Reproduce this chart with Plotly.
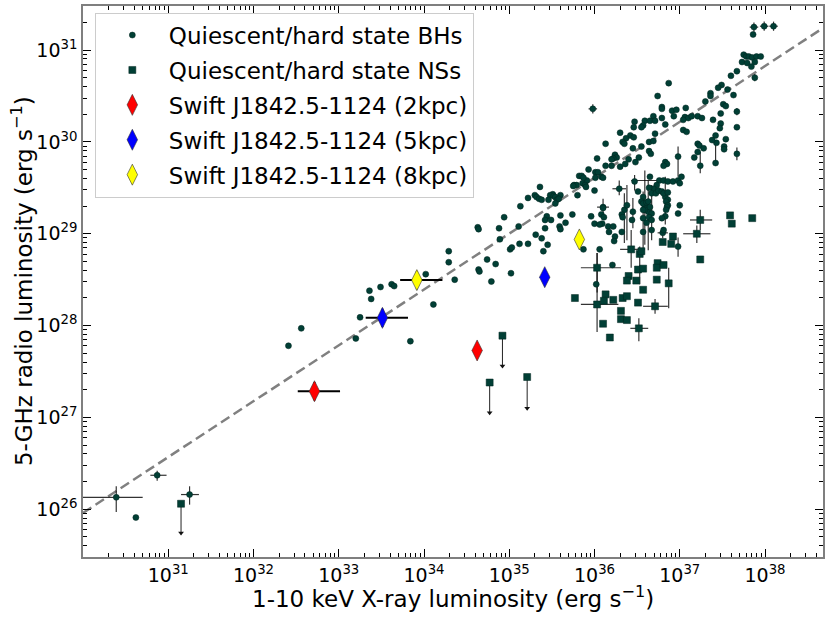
import numpy as np
import plotly.graph_objects as go

# All luminosities are log10 values (erg/s)

# Quiescent/hard state black holes (no error bars drawn)
bh_lx = [37.86, 37.75, 37.78, 37.81, 37.85, 37.90, 37.95, 37.73, 37.79, 37.88, 37.84,
         37.67, 37.60, 36.87, 37.49, 37.45, 37.56, 37.36, 37.36, 37.63, 36.74, 37.30,
         37.51, 37.54, 36.79, 36.79, 37.07, 36.91, 36.96, 37.48, 36.93, 36.69, 37.06,
         37.10, 37.14, 37.21, 37.26, 37.04, 37.39, 36.79, 36.47, 36.59, 36.65, 36.71,
         37.48, 37.47, 36.57, 36.55, 36.46, 37.04, 37.08, 36.83, 37.67, 36.71, 36.30,
         36.42, 36.46, 36.37, 36.33, 36.35, 36.64, 36.69, 36.13, 37.42, 37.43, 37.38,
         37.54, 37.21, 37.23, 37.28, 36.55, 36.45, 37.52, 37.52, 36.64, 36.66, 36.24,
         36.26, 36.22, 36.20, 36.52, 36.40, 37.17, 36.48, 36.36, 36.30, 36.13, 36.83,
         36.85, 36.81, 37.21, 36.20, 35.51, 35.60, 35.76, 35.79, 35.80, 35.86, 35.82,
         35.91, 36.00, 35.93, 36.03, 36.01, 36.04, 36.08, 35.85, 35.87, 36.10, 36.01,
         35.75, 35.89, 35.90, 35.36, 35.30, 35.32, 35.35, 35.38, 35.48, 35.52, 35.54,
         35.56, 35.58, 35.46, 35.54, 35.22, 35.13, 34.94, 35.44, 35.42, 35.49, 35.60,
         35.66, 35.74, 35.59, 35.60, 34.63, 34.64, 34.88, 35.11, 35.42, 35.31, 35.38,
         34.89, 35.12, 35.22, 35.01, 35.03, 35.45, 35.40, 35.96, 36.09, 36.16, 36.22,
         34.29, 34.29, 34.74, 34.84, 34.64, 34.65, 35.02, 34.79, 34.36, 34.02, 33.36,
         33.49, 33.62, 33.65, 33.38, 34.11, 33.25, 33.20, 33.84, 32.56, 32.41, 30.62,
         36.51, 36.65, 36.73, 36.81, 36.86, 36.92, 36.98, 37.00, 37.02, 36.69, 36.64,
         36.67, 36.72, 36.75, 36.79, 36.81, 36.86, 36.86, 36.84, 36.86, 36.85, 36.84,
         36.83, 36.79, 36.81, 36.57, 36.55, 36.57, 36.61, 36.63, 36.65, 36.59, 36.57,
         36.64, 36.67, 36.61, 36.67, 36.57, 37.00, 36.98, 36.44, 36.32, 36.33, 36.32,
         36.10, 36.08, 36.11, 36.00, 36.06, 36.17, 36.24, 36.23, 36.06, 35.87, 36.21,
         36.02]
bh_lr = [31.17, 30.95, 30.93, 30.93, 30.92, 30.93, 30.93, 30.87, 30.86, 30.87, 30.82,
         30.77, 30.72, 30.64, 30.62, 30.59, 30.57, 30.53, 30.50, 30.51, 30.50, 30.44,
         30.41, 30.39, 30.38, 30.36, 30.37, 30.34, 30.35, 30.31, 30.28, 30.28, 30.27,
         30.26, 30.28, 30.28, 30.26, 30.24, 30.24, 30.26, 30.22, 30.23, 30.23, 30.23,
         30.20, 30.15, 30.18, 30.16, 30.16, 30.13, 30.11, 30.19, 30.16, 30.09, 30.10,
         30.07, 30.05, 30.04, 30.00, 29.98, 30.00, 30.01, 29.98, 30.07, 29.99, 30.02,
         30.03, 29.98, 29.96, 29.93, 29.95, 29.93, 29.95, 29.92, 29.90, 29.87, 29.86,
         29.83, 29.82, 29.81, 29.83, 29.81, 29.83, 29.78, 29.76, 29.73, 29.74, 29.78,
         29.76, 29.74, 29.89, 29.74, 29.43, 29.42, 29.53, 29.53, 29.42, 29.55, 29.63,
         29.58, 29.47, 29.70, 29.82, 29.67, 29.67, 29.62, 29.63, 29.61, 29.61, 29.61,
         29.52, 29.53, 29.51, 29.51, 29.42, 29.40, 29.38, 29.37, 29.42, 29.41, 29.40,
         29.37, 29.38, 29.37, 29.33, 29.39, 29.30, 29.18, 29.19, 29.15, 29.15, 29.20,
         29.12, 29.21, 29.08, 29.05, 29.07, 29.05, 29.06, 29.08, 29.06, 28.99, 28.95,
         28.94, 28.89, 28.89, 28.83, 28.85, 28.88, 28.81, 29.19, 29.11, 29.08, 29.08,
         28.81, 28.69, 28.72, 28.67, 28.61, 28.59, 28.57, 28.48, 28.50, 28.56, 28.38,
         28.42, 28.45, 28.43, 28.29, 28.23, 28.09, 27.86, 27.83, 27.97, 27.78, 25.91,
         29.46, 29.62, 29.53, 29.58, 29.57, 29.57, 29.58, 29.55, 29.62, 29.49, 29.50,
         29.44, 29.44, 29.47, 29.46, 29.44, 29.45, 29.37, 29.35, 29.31, 29.29, 29.26,
         29.19, 29.17, 29.04, 29.40, 29.35, 29.33, 29.34, 29.35, 29.29, 29.26, 29.26,
         29.18, 29.15, 29.12, 29.04, 29.02, 29.31, 29.22, 29.15, 29.21, 29.18, 29.02,
         29.28, 29.21, 29.18, 29.11, 29.10, 29.02, 28.97, 28.92, 28.83, 28.83, 28.66,
         28.45]

# Black holes with error bars: value, lower, upper
bhe_lx = [37.87, 37.99, 38.10, 37.88, 37.67, 37.67, 36.98, 37.24, 37.42, 35.98, 36.29,
          36.47, 36.76, 36.10, 36.80, 36.98, 36.35, 36.38, 36.45, 36.59, 36.63, 36.67,
          36.57, 36.83, 30.39, 30.87, 31.25]
bhe_lx_lo = [37.82, 37.94, 38.05, 37.88, 37.67, 37.67, 36.98, 37.24, 37.42, 35.93, 36.21,
             36.47, 36.43, 36.03, 36.74, 36.98, 36.35, 36.38, 36.45, 36.59, 36.63, 36.67,
             36.57, 36.83, 30.00, 30.79, 31.15]
bhe_lx_hi = [37.92, 38.04, 38.15, 37.88, 37.67, 37.67, 36.98, 37.24, 37.42, 36.03, 36.37,
             36.47, 36.96, 36.17, 36.86, 36.98, 36.35, 36.38, 36.45, 36.59, 36.63, 36.67,
             36.57, 36.83, 30.70, 30.98, 31.36]
bhe_lr = [31.25, 31.26, 31.26, 30.70, 30.33, 29.87, 29.84, 29.74, 29.77, 30.36, 29.49,
          29.57, 29.58, 29.29, 29.01, 28.86, 29.26, 29.31, 29.24, 29.31, 29.24, 29.22,
          29.17, 29.40, 26.13, 26.37, 26.16]
bhe_lr_lo = [31.20, 31.21, 31.21, 30.66, 30.29, 29.80, 29.62, 29.66, 29.74, 30.31, 29.42,
             29.47, 29.58, 29.20, 28.95, 28.75, 28.90, 28.93, 29.06, 28.88, 28.82, 28.93,
             28.77, 29.10, 25.97, 26.31, 26.05]
bhe_lr_hi = [31.30, 31.31, 31.31, 30.74, 30.37, 29.94, 29.95, 29.89, 30.00, 30.41, 29.58,
             29.64, 29.58, 29.38, 29.07, 28.96, 29.44, 29.53, 29.39, 29.69, 29.58, 29.53,
             29.46, 29.62, 26.25, 26.42, 26.25]

# Quiescent/hard state neutron stars
ns_lx = [37.59, 37.61, 37.85, 36.80, 36.90, 36.92, 36.55, 37.24, 36.74, 36.73, 36.81,
         36.51, 36.57, 36.40, 36.38, 36.49, 36.73, 36.57, 35.77, 36.13, 36.11, 36.22,
         36.33, 36.38, 36.51, 36.31, 36.31, 36.38, 36.10, 36.18]
ns_lr = [29.20, 29.11, 29.17, 28.91, 28.89, 28.97, 28.81, 28.72, 28.68, 28.63, 28.66,
         28.61, 28.62, 28.54, 28.49, 28.49, 28.50, 28.39, 28.30, 28.34, 28.27, 28.28,
         28.30, 28.32, 28.25, 28.16, 28.07, 28.06, 28.02, 27.87]

nse_lx = [37.24, 37.20, 36.43, 36.53, 36.03, 36.87, 36.03, 36.71, 36.52]
nse_lx_lo = [37.12, 37.04, 36.30, 36.53, 35.84, 36.85, 35.84, 36.57, 36.42]
nse_lx_hi = [37.38, 37.36, 36.59, 36.53, 36.31, 36.89, 36.28, 36.86, 36.63]
nse_lr = [29.15, 29.00, 28.83, 28.78, 28.63, 28.46, 28.23, 28.21, 27.97]
nse_lr_lo = [29.04, 28.90, 28.63, 28.45, 28.36, 28.19, 27.93, 28.13, 27.83]
nse_lr_hi = [29.26, 29.09, 29.04, 28.86, 28.79, 28.63, 28.79, 28.29, 28.08]

# Neutron-star radio upper limits (top of arrow, tip of arrow)
nsul_lx = [34.92, 34.77, 35.21, 31.15]
nsul_lr = [27.89, 27.38, 27.44, 26.06]
nsul_tip = [27.56, 27.05, 27.10, 25.74]

# Swift J1842.5-1124 at three distances (two epochs each)
swift_names = ["Swift J1842.5-1124 (2kpc)", "Swift J1842.5-1124 (5kpc)",
               "Swift J1842.5-1124 (8kpc)"]
swift_colors = ["#ff0000", "#0000ff", "#ffff00"]
swift_lx = [[32.715, 34.623], [33.512, 35.416], [33.916, 35.822]]
swift_lr = [[27.285, 27.729], [28.084, 28.527], [28.495, 28.938]]
swift_lx_minus = [0.196, 0.0]
swift_lx_plus = [0.300, 0.0]
swift_lr_err = [0.10, 0.0]

# Correlation line endpoints
fit_lx = [30.0, 38.68]
fit_lr = [25.96, 31.24]

# axis ticks (decades)
x_decades = [31, 32, 33, 34, 35, 36, 37, 38]
y_decades = [26, 27, 28, 29, 30, 31]

MARK = "#013f35"
EDGE = "#00241e"
ERRC = "rgba(0,0,0,0.8)"
FONT = "DejaVu Sans"


def lin(v):
    return 10 ** np.array(v, dtype=float)


def err(v, lo, hi, color=ERRC, thick=1.2):
    v, lo, hi = lin(v), lin(lo), lin(hi)
    return dict(type="data", symmetric=False, array=hi - v, arrayminus=v - lo,
                color=color, thickness=thick, width=0)


def minor_vals(lo, hi):
    return [m * 10.0 ** d for d in range(lo, hi) for m in range(2, 10)]


def power_label(d):
    return "10<sup>%d</sup>" % d


fig = go.Figure()

# correlation line
fig.add_trace(go.Scatter(x=lin(fit_lx), y=lin(fit_lr), mode="lines",
                         line=dict(color="#808080", width=2.5, dash="10px,5px"),
                         showlegend=False, hoverinfo="skip"))

# upper-limit arrows for NSs
ax, ay = [], []
for x, y0, y1 in zip(nsul_lx, nsul_lr, nsul_tip):
    ax += [10 ** x, 10 ** x, None]
    ay += [10 ** y0, 10 ** y1, None]
fig.add_trace(go.Scatter(x=ax, y=ay, mode="lines", line=dict(color="#222", width=1),
                         showlegend=False, hoverinfo="skip"))
fig.add_trace(go.Scatter(x=lin(nsul_lx), y=lin(nsul_tip), mode="markers",
                         marker=dict(symbol="triangle-down", size=5, color="#111"),
                         showlegend=False, hoverinfo="skip"))

# points with error bars
fig.add_trace(go.Scatter(x=lin(bhe_lx), y=lin(bhe_lr), mode="markers",
                         marker=dict(symbol="circle", size=6, color=MARK,
                                     line=dict(color=EDGE, width=0.5)),
                         error_x=err(bhe_lx, bhe_lx_lo, bhe_lx_hi),
                         error_y=err(bhe_lr, bhe_lr_lo, bhe_lr_hi),
                         showlegend=False))
fig.add_trace(go.Scatter(x=lin(nse_lx), y=lin(nse_lr), mode="markers",
                         marker=dict(symbol="square", size=7, color=MARK,
                                     line=dict(color=EDGE, width=0.5)),
                         error_x=err(nse_lx, nse_lx_lo, nse_lx_hi),
                         error_y=err(nse_lr, nse_lr_lo, nse_lr_hi),
                         showlegend=False))
fig.add_trace(go.Scatter(x=lin(nsul_lx), y=lin(nsul_lr), mode="markers",
                         marker=dict(symbol="square", size=7, color=MARK,
                                     line=dict(color=EDGE, width=0.5)),
                         showlegend=False))

# legend entries (each in its own group so the row gap can be widened)
fig.add_trace(go.Scatter(x=lin(bh_lx), y=lin(bh_lr), mode="markers",
                         name="Quiescent/hard state BHs", legendgroup="bh",
                         marker=dict(symbol="circle", size=6, color=MARK,
                                     line=dict(color=EDGE, width=0.5))))
fig.add_trace(go.Scatter(x=lin(ns_lx), y=lin(ns_lr), mode="markers",
                         name="Quiescent/hard state NSs", legendgroup="ns",
                         marker=dict(symbol="square", size=7, color=MARK,
                                     line=dict(color=EDGE, width=0.5))))

for name, col, lx, lr in zip(swift_names, swift_colors, swift_lx, swift_lr):
    lx_arr, lr_arr = np.array(lx), np.array(lr)
    ex = err(lx_arr, lx_arr - np.array(swift_lx_minus), lx_arr + np.array(swift_lx_plus),
             color="#000", thick=2)
    ey = err(lr_arr, lr_arr - np.array(swift_lr_err), lr_arr + np.array(swift_lr_err),
             color="#000", thick=2)
    fig.add_trace(go.Scatter(x=lin(lx), y=lin(lr), mode="markers", name=name,
                             legendgroup=name,
                             marker=dict(symbol="diamond-tall", size=15, color=col,
                                         line=dict(color="#333", width=0.6)),
                             error_x=ex, error_y=ey))

axis_common = dict(type="log", tickmode="array", exponentformat="power",
                   ticks="inside", ticklen=8, tickwidth=1.2, tickcolor="#000",
                   showline=True, linecolor="#7f7f7f", linewidth=1.5, mirror="allticks",
                   showgrid=False, zeroline=False, automargin=False,
                   tickfont=dict(family=FONT, size=19, color="#000"),
                   minor=dict(ticks="inside", ticklen=4, tickwidth=1, tickcolor="#000",
                              showgrid=False, tickmode="array"))

fig.update_xaxes(**axis_common, range=[30.0, 38.68],
                 tickvals=lin(x_decades), ticktext=[power_label(d) for d in x_decades],
                 minor_tickvals=minor_vals(30, 39))
fig.update_yaxes(**axis_common, range=[25.48, 31.48],
                 tickvals=lin(y_decades), ticktext=[power_label(d) for d in y_decades],
                 minor_tickvals=minor_vals(25, 32))

# axis titles as annotations so they sit where the original has them
fig.add_annotation(text="5-GHz radio luminosity (erg s<sup>\u22121</sup>)",
                   xref="paper", yref="paper", x=-0.083, y=0.5,
                   xanchor="center", yanchor="middle", textangle=-90, showarrow=False,
                   font=dict(family=FONT, size=23, color="#000"))
fig.add_annotation(text="1-10 keV X-ray luminosity (erg s<sup>\u22121</sup>)",
                   xref="paper", yref="paper", x=0.5, y=-0.072,
                   xanchor="center", yanchor="middle", showarrow=False,
                   font=dict(family=FONT, size=23, color="#000"))

fig.update_layout(width=830, height=617,
                  margin=dict(l=83, r=7, t=6, b=60),
                  paper_bgcolor="white", plot_bgcolor="white",
                  font=dict(family=FONT, color="#000"),
                  legend=dict(x=0.016, y=0.988, xanchor="left", yanchor="top",
                              bgcolor="rgba(255,255,255,0.85)", bordercolor="#cccccc",
                              borderwidth=1, font=dict(size=23), itemwidth=63,
                              tracegroupgap=2))

fig.write_html("out.html", config={"displayModeBar": False},
               post_script="document.body.style.margin='0px';")
